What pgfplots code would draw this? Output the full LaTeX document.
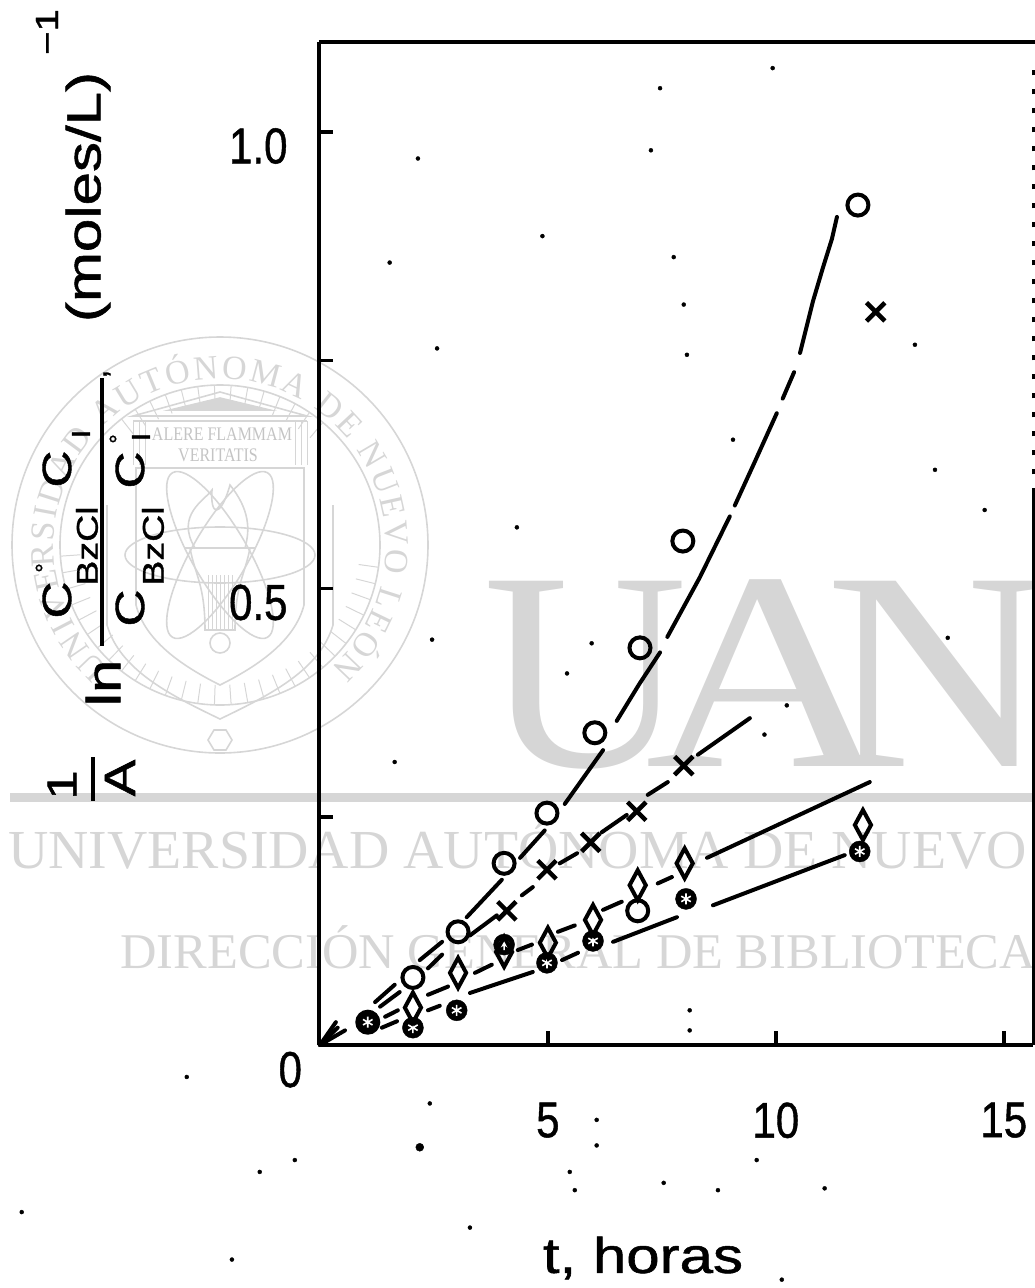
\documentclass[border=0pt]{standalone}
\usepackage{fontspec}
\usepackage{graphicx}
\usepackage{pgfplots}
\pgfplotsset{compat=1.18}
\usetikzlibrary{decorations.text}
\setmainfont{Liberation Sans}[RawFeature={embolden=1.0}]
\newfontfamily\wmfont{Liberation Serif}
\definecolor{wm}{HTML}{D6D6D6}
\definecolor{wmf}{HTML}{C4C4C4}
\newcommand\lab[1]{\scalebox{1}[1.2]{\fontsize{42}{42}\selectfont #1}}
\newcommand\rl[4]{\node[rotate=90,inner sep=0pt,anchor=center] at (#1,#2) {\scalebox{1.25}[1]{\fontsize{#3}{#3}\selectfont #4}};}
\newcommand\wmt[5]{\node[inner sep=0pt,anchor=base west,text=wm] at (#1,#2) {\scalebox{#4}[1]{\wmfont\fontsize{#3}{#3}\selectfont #5}};}
\begin{document}
\begin{tikzpicture}[x=1pt,y=-1pt]
\path[use as bounding box] (0,0) rectangle (1035,1288);
% ---- watermark
\fill[wm] (10,793) rectangle (1035,802);
\wmt{483}{766}{283}{1}{U}
\wmt{645}{766}{283}{1.2}{A}
\wmt{825}{766}{283}{1.1}{N}
\wmt{8}{868}{55}{1.015}{UNIVERSIDAD AUTÓNOMA DE NUEVO LEÓN}
\wmt{120}{968}{50}{1.01}{DIRECCIÓN GENERAL DE BIBLIOTECAS}
\begin{scope}[shift={(220,545)},y=1pt,draw=wm,line width=1.6pt]
  \draw (0,0) circle (208);
  \draw (0,0) circle (160);
  \path[decorate,decoration={text along path,text align={fit to path},text color=wm,
     text={|\wmfont\fontsize{34}{34}\selectfont|UNIVERSIDAD AUTÓNOMA DE NUEVO LEÓN}}]
     (228:166) arc (228:-48:166);
  \foreach \a in {-176,-170,...,-4} \draw[line width=1pt] (\a:140)--(\a:160);
  \foreach \a in {50,56,...,130} \draw[line width=1pt] (\a:140)--(\a:160);
  \draw (-113,40)--(-113,-80) .. controls (-100,-125) and (-50,-150) .. (0,-174)
        .. controls (50,-150) and (100,-125) .. (113,-80)--(113,40);
  \draw (-84,77)--(-84,-60) .. controls (-75,-95) and (-40,-120) .. (0,-140)
        .. controls (40,-120) and (75,-95) .. (84,-60)--(84,77)--cycle;
  \draw (-87,129)--(0,153)--(87,129)--cycle;
  \draw (-87,124)--(87,124);
  \draw[fill=wm] (-50,135)--(50,135)--(0,147)--cycle;
  \foreach \x in {-87,-81,-75,75,81,87} \draw[line width=1pt] (\x,124)--(\x,80);
  \node[inner sep=0pt,text=wmf] at (2,111) {\scalebox{1}[1.2]{\wmfont\fontsize{16}{16}\selectfont ALERE FLAMMAM}};
  \node[inner sep=0pt,text=wmf] at (-2,90) {\scalebox{1}[1.2]{\wmfont\fontsize{16}{16}\selectfont VERITATIS}};
  \draw (0,-10) ellipse [x radius=95,y radius=28];
  \draw[rotate around={60:(0,-10)}] (0,-10) ellipse [x radius=95,y radius=28];
  \draw[rotate around={-60:(0,-10)}] (0,-10) ellipse [x radius=95,y radius=28];
  \draw (-35,-3)--(35,-3);
  \draw (-30,-3) .. controls (-25,-30) and (-15,-40) .. (-15,-85)--(15,-85)
        .. controls (15,-40) and (25,-30) .. (30,-3);
  \foreach \x in {-12,-8,...,12} \draw[line width=.8pt] (\x,-30)--(\x,-85);
  \draw (-25,-3) .. controls (-45,30) and (-15,45) .. (-8,55) .. controls (-10,30) and (0,25) .. (10,60)
        .. controls (30,35) and (30,15) .. (25,-3);
  \draw (0,-98) circle (10);
  \draw (-12,-195)--(-6,-185)--(6,-185)--(12,-195)--(6,-205)--(-6,-205)--cycle;
\end{scope}
% ---- y axis title
\rl{47}{32}{32}{−1}
\rl{88}{197}{48}{(moles/L)}
\rl{62}{785}{42}{1}
\draw[line width=4pt] (93,757)--(93,801);
\rl{120}{778}{44}{A}
\rl{103}{683}{48}{ln}
\draw[line width=4pt] (102,378)--(102,646);
\node[inner sep=0pt,rotate=90] at (107,374) {\fontsize{30}{30}\selectfont ,};
\rl{57}{600}{41}{C}
\node[inner sep=0pt] at (39,573) {\fontsize{24}{24}\selectfont °};
\rl{87}{546}{30}{BzCl}
\rl{57}{469}{41}{C}
\rl{81}{434}{26}{I}
\rl{130}{608}{41}{C}
\rl{153}{546}{30}{BzCl}
\rl{130}{470}{41}{C}
\node[inner sep=0pt] at (113,444) {\fontsize{24}{24}\selectfont °};
\rl{141}{437}{26}{I}
\node[inner sep=0pt,anchor=center] at (643,1258) {\scalebox{1.2}[1]{\fontsize{50}{50}\selectfont t, horas}};
\begin{axis}[
  at={(319pt,-1045pt)},anchor=south west,
  scale only axis,width=714pt,height=1003pt,
  xmin=-0.02,xmax=15.64,ymin=0,ymax=1.0986,
  axis x line*=bottom,axis y line*=left,
  axis line style={-,black,line width=4pt},
  tick align=inside,
  major tick length=14pt,
  tick style={black,line width=3.5pt},
  unbounded coords=jump,
  xtick={5,10,15},xticklabels={\lab{5},\lab{10},\lab{15}},
  ytick={0,0.25,0.5,0.75,1},yticklabels={,,\lab{0.5},,\lab{1.0}},
  xticklabel style={yshift=-54pt},
  yticklabel style={xshift=-28pt,yshift=-14pt},
  clip=false,
]
\draw[line width=4pt] (rel axis cs:0,1)--(rel axis cs:1.003,1);
\draw[line width=2.5pt] (rel axis cs:1.001,0)--(rel axis cs:1.001,0.55);
\draw[line width=2.5pt,dash pattern=on 5pt off 14pt] (rel axis cs:1.001,0.55)--(rel axis cs:1.001,0.98);
% zero label
\node[inner sep=0pt] at (axis cs:-0.65,-0.027) {\lab{0}};
% curves (broken as in the drawing)
\addplot[black,line width=4pt,line cap=round] coordinates {
 (0,0)(0.39,0.019)(nan,nan)
 (1.21,0.047)(1.64,0.066)(nan,nan)
 (2.19,0.093)(2.68,0.113)(nan,nan)
 (3.22,0.140)(3.99,0.181)(nan,nan)
 (4.39,0.205)(4.93,0.235)(nan,nan)
 (5.37,0.264)(6.21,0.323)(nan,nan)
 (6.51,0.355)(7.00,0.395)(7.46,0.430)(nan,nan)
 (7.62,0.447)(8.33,0.512)(8.99,0.579)(nan,nan)
 (9.10,0.591)(9.54,0.639)(10.02,0.692)(nan,nan)
 (10.15,0.708)(10.40,0.737)(nan,nan)
 (10.53,0.758)(10.81,0.814)(11.03,0.851)(11.23,0.883)(11.34,0.907)};
\addplot[black,line width=4pt,line cap=round] coordinates {
 (0,0)(0.35,0.025)(nan,nan)
 (1.32,0.042)(1.75,0.058)(nan,nan)
 (2.37,0.084)(2.68,0.099)(nan,nan)
 (3.29,0.120)(3.88,0.142)(nan,nan)
 (4.43,0.164)(4.67,0.173)(nan,nan)
 (5.26,0.199)(5.64,0.210)(nan,nan)
 (6.18,0.233)(6.73,0.252)(nan,nan)
 (7.19,0.274)(7.63,0.288)(nan,nan)
 (8.29,0.318)(9.43,0.358)};
\addplot[black,line width=4pt,line cap=round] coordinates {
 (0,0)(0.55,0.016)(nan,nan)
 (1.43,0.031)(1.71,0.038)(nan,nan)
 (2.37,0.055)(2.81,0.064)(nan,nan)
 (3.40,0.079)(3.77,0.088)(nan,nan)
 (4.34,0.104)(4.65,0.110)(nan,nan)
 (5.22,0.124)(5.59,0.131)(nan,nan)
 (6.21,0.148)(6.62,0.157)(nan,nan)
 (7.41,0.177)(7.72,0.184)(nan,nan)
 (8.49,0.205)(12.06,0.288)};
\addplot[black,line width=4pt,line cap=round] coordinates {
 (1.36,0.019)(1.69,0.026)(nan,nan)
 (2.37,0.038)(2.63,0.043)(nan,nan)
 (3.29,0.057)(4.67,0.080)(nan,nan)
 (5.31,0.093)(5.66,0.101)(nan,nan)
 (6.43,0.113)(7.83,0.140)(nan,nan)
 (8.62,0.153)(11.51,0.208)};
% filled-with-star points
\addplot[only marks,mark=*,mark size=10.5pt,mark options={black,fill=black}] coordinates {
 (1.05,0.025)(2.04,0.019)(3.0,0.038)(4.04,0.110)(4.98,0.090)(5.99,0.114)(8.03,0.160)(11.84,0.212)};
\addplot[only marks,mark=asterisk,mark size=5.5pt,mark options={white,line width=1.6pt}] coordinates {
 (1.05,0.025)(2.04,0.019)(3.0,0.038)(4.04,0.110)(4.98,0.090)(5.99,0.114)(8.03,0.160)(11.84,0.212)};
% open circles
\addplot[only marks,mark=o,mark size=10.5pt,mark options={black,line width=4pt}] coordinates {
 (1.05,0.025)(2.04,0.074)(3.03,0.124)(4.04,0.199)(4.98,0.254)(6.03,0.342)(7.02,0.435)(7.96,0.552)(11.80,0.920)(6.97,0.147)};
% crosses
\addplot[only marks,mark=x,mark size=13pt,mark options={black,line width=4.5pt}] coordinates {
 (4.10,0.147)(4.98,0.192)(5.94,0.222)(6.95,0.256)(7.98,0.306)(12.19,0.803)};
% diamonds
\addplot[only marks,mark=diamond,mark size=15pt,mark options={black,line width=4pt,xscale=0.72}] coordinates {
 (2.04,0.041)(3.03,0.079)(4.04,0.102)(5.0,0.112)(5.99,0.137)(6.97,0.175)(8.0,0.199)(11.91,0.241)};
% specks of the scan
\addplot[only marks,mark=*,mark size=2pt,mark options={black,fill=black}] coordinates {
 (9.93,1.070)(7.46,1.048)(7.26,0.980)(2.15,0.971)(4.88,0.886)(1.53,0.857)(7.76,0.863)(7.98,0.811)
 (8.05,0.756)(2.57,0.763)(13.05,0.767)(13.49,0.630)(14.58,0.586)(9.06,0.663)(13.77,0.446)(5.96,0.440)
 (10.24,0.372)(9.75,0.340)(5.42,0.407)(4.32,0.567)(2.46,0.444)(1.64,0.310)(8.11,0.038)(8.11,0.016)
 (-2.92,-0.035)(2.41,-0.064)(6.07,-0.082)(6.07,-0.110)(-1.32,-0.139)(-0.55,-0.126)(5.48,-0.139)
 (5.59,-0.159)(7.54,-0.151)(8.73,-0.159)(9.58,-0.126)(11.07,-0.157)(3.29,-0.200)(-1.93,-0.235)(-6.54,-0.183)(10.13,-0.257)};
\addplot[only marks,mark=*,mark size=4pt,mark options={black,fill=black}] coordinates {(2.19,-0.112)};
\end{axis}
\end{tikzpicture}
\end{document}
